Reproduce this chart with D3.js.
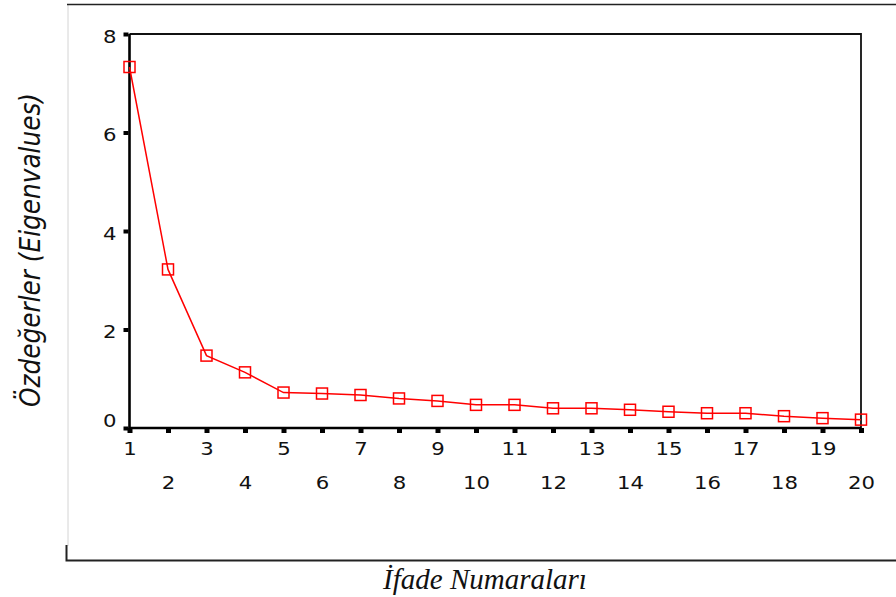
<!DOCTYPE html>
<html><head><meta charset="utf-8">
<script src="https://cdn.jsdelivr.net/npm/d3@7"></script>
<style>body{margin:0;background:#fff}svg{display:block}</style>
</head><body>
<svg id="c" width="896" height="597"></svg>
<script>
const components = d3.range(1, 21);
const eigenvalues = [7.33, 3.22, 1.47, 1.13, 0.72, 0.70, 0.67, 0.60, 0.55, 0.47,
                     0.47, 0.40, 0.40, 0.37, 0.33, 0.30, 0.30, 0.24, 0.20, 0.17];
const yTicks = [0, 2, 4, 6, 8];
const yTitle = "Özdeğerler (Eigenvalues)";
const xTitle = "İfade Numaraları";

const svg = d3.select("#c");
const L = 129.5, R = 861, T = 34, B = 428;
const x = d3.scaleLinear().domain([1, 20]).range([L, R]);
const y = d3.scaleLinear().domain([0, 8]).range([B, T]);
const font = "'DejaVu Sans', Verdana, sans-serif";

// outer frame
svg.append("line").attr("x1", 68).attr("x2", 68).attr("y1", 5).attr("y2", 546)
  .attr("stroke", "#d4d4d4").attr("stroke-width", 1);
svg.append("line").attr("x1", 67).attr("x2", 896).attr("y1", 4.5).attr("y2", 4.5)
  .attr("stroke", "#222").attr("stroke-width", 1.6);
svg.append("path").attr("d", "M66.5,545V560.5H896").attr("fill", "none")
  .attr("stroke", "#222").attr("stroke-width", 2);

// plot frame top & right
svg.append("path").attr("d", `M${L},${T}H${R}V${B}`).attr("fill", "none")
  .attr("stroke", "#111").attr("stroke-width", 1.8);

// y axis
const yAxis = d3.axisLeft(y).tickValues(yTicks).tickSize(0).tickPadding(0);
const gy = svg.append("g").attr("transform", `translate(${L},0)`).call(yAxis);
gy.select(".domain").remove();
gy.selectAll("text").attr("font-family", font).attr("font-size", 18).attr("fill", "#111")
  .attr("x", -11).attr("dy", d => d === 0 ? "-0.08em" : "0.45em")
  .attr("transform", "scale(1.18,1)");
gy.selectAll(".tick").append("rect").attr("x", -6).attr("y", -2).attr("width", 5).attr("height", 4).attr("fill", "#000");

// x axis
const xAxis = d3.axisBottom(x).tickValues(components).tickSize(0).tickPadding(0)
  .tickFormat(d3.format("d"));
const gx = svg.append("g").attr("transform", `translate(0,${B})`).call(xAxis);
gx.select(".domain").remove();
gx.selectAll("text").attr("font-family", font).attr("font-size", 18).attr("fill", "#111")
  .attr("y", d => d % 2 === 1 ? 27 : 61).attr("dy", 0)
  .attr("transform", "scale(1.18,1)");
gx.selectAll(".tick").append("rect").attr("x", -2.5).attr("y", 0).attr("width", 5).attr("height", 5).attr("fill", "#000");

// left & bottom axis lines
svg.append("path").attr("d", `M${L},${T}V${B}H${R}`).attr("fill", "none")
  .attr("stroke", "#000").attr("stroke-width", 2.6);

// series line
const line = d3.line().x((d, i) => x(components[i])).y(d => y(d));
svg.append("path").datum(eigenvalues).attr("d", line).attr("fill", "none")
  .attr("stroke", "#ff0000").attr("stroke-width", 1.5);
svg.selectAll("rect.m").data(eigenvalues).join("rect").attr("class", "m")
  .attr("x", (d, i) => x(components[i]) - 5.5).attr("y", d => y(d) - 5.5)
  .attr("width", 11).attr("height", 11)
  .attr("fill", "none").attr("stroke", "#ff0000").attr("stroke-width", 1.5);

// titles
svg.append("text").attr("transform", "translate(40,250) rotate(-90)")
  .attr("text-anchor", "middle").attr("font-family", font).attr("font-style", "italic")
  .attr("font-size", 28).attr("fill", "#111")
  .attr("textLength", 314).attr("lengthAdjust", "spacingAndGlyphs").text(yTitle);
svg.append("text").attr("x", 485).attr("y", 589).attr("text-anchor", "middle")
  .attr("font-family", "'Liberation Serif', 'Times New Roman', serif").attr("font-style", "italic")
  .attr("font-size", 29).attr("fill", "#111").text(xTitle);
</script>
</body></html>
